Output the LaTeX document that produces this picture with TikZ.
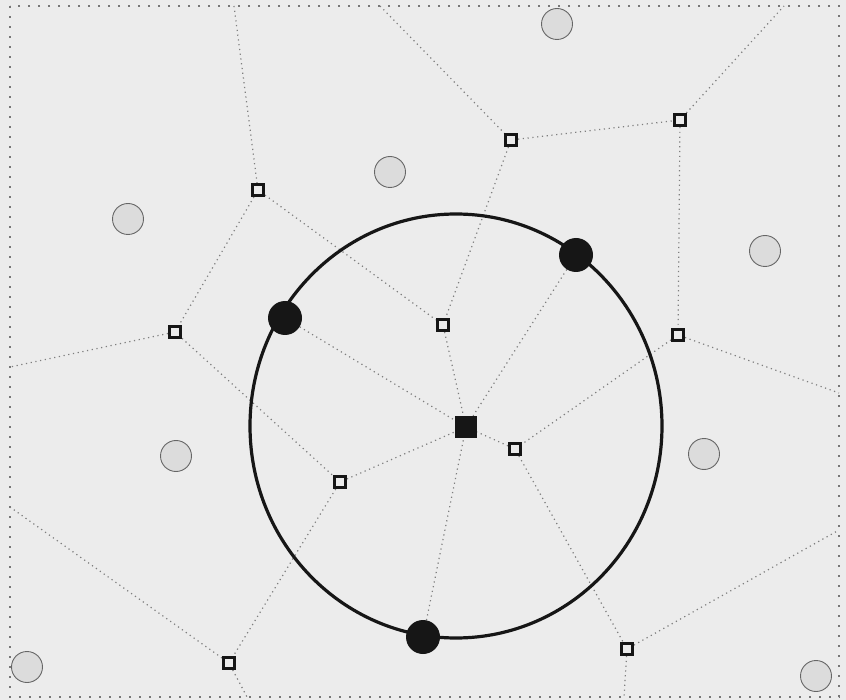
\documentclass[tikz,border=0pt]{standalone}
\usetikzlibrary{backgrounds}
\definecolor{bgc}{HTML}{ECECEC}
\definecolor{sitefill}{HTML}{DCDCDC}
\definecolor{siteline}{HTML}{666666}
\definecolor{edgec}{HTML}{7E7E7E}
\definecolor{framec}{HTML}{777777}
\definecolor{ink}{HTML}{161616}
\tikzset{
  site/.style={circle,draw=siteline,fill=sitefill,line width=0.9pt,minimum width=31pt,minimum height=30pt,inner sep=0pt},
  vtx/.style={rectangle,draw=ink,fill=bgc,line width=3pt,minimum size=11pt,inner sep=0pt},
  hub/.style={rectangle,fill=ink,minimum size=22pt,inner sep=0pt},
  pt/.style={circle,fill=ink,minimum size=34pt,inner sep=0pt},
  vedge/.style={draw=edgec,line width=1.2pt,dash pattern=on 1.2pt off 3.6pt},
  frame/.style={draw=framec,line width=1.6pt,dash pattern=on 2pt off 8pt},
}
\begin{document}
\begin{tikzpicture}[x=1pt,y=-1pt]
\useasboundingbox (0,0) rectangle (846,700);
% sites
\node[site] (s1) at (128,219) {};
\node[site] (s2) at (390,172) {};
\node[site] (s3) at (557,24) {};
\node[site] (s4) at (765,251) {};
\node[site] (s5) at (176,456) {};
\node[site] (s6) at (27,667) {};
\node[site] (s7) at (704,454) {};
\node[site] (s8) at (816,676) {};
% big circle
\draw[ink,line width=3.2pt] (456,426) ellipse [x radius=206, y radius=212];
% vertices
\node[vtx] (v1) at (258,190) {};
\node[vtx] (v2) at (175,332) {};
\node[vtx] (v3) at (511,140) {};
\node[vtx] (v4) at (680,120) {};
\node[vtx] (v5) at (443,325) {};
\node[vtx] (v6) at (678,335) {};
\node[vtx] (v7) at (340,482) {};
\node[vtx] (v8) at (229,663) {};
\node[vtx] (v9) at (515,449) {};
\node[vtx] (v10) at (627,649) {};
\node[hub] (c) at (466,427) {};
% points on circle
\node[pt] (p1) at (285,318) {};
\node[pt] (p2) at (576,255) {};
\node[pt] (p3) at (423,637) {};
% border coordinates
\coordinate (b1) at (234,6);
\coordinate (b2) at (380,6);
\coordinate (b3) at (784,6);
\coordinate (b4) at (10,367);
\coordinate (b5) at (10,507);
\coordinate (b6) at (247,697);
\coordinate (b7) at (624,697);
\coordinate (b8) at (839,530);
\coordinate (b9) at (839,393);
\begin{pgfonlayer}{background}
\fill[bgc] (0,0) rectangle (846,700);
\draw[frame] (10,6) rectangle (839,697);
\draw[vedge] (b1) -- (v1);
\draw[vedge] (v1) -- (v2);
\draw[vedge] (v1) -- (v5);
\draw[vedge] (v2) -- (b4);
\draw[vedge] (v2) -- (v7);
\draw[vedge] (v7) -- (c);
\draw[vedge] (v7) -- (v8);
\draw[vedge] (v8) -- (b6);
\draw[vedge] (v8) -- (b5);
\draw[vedge] (b2) -- (v3);
\draw[vedge] (v3) -- (v4);
\draw[vedge] (v3) -- (v5);
\draw[vedge] (v4) -- (b3);
\draw[vedge] (v4) -- (v6);
\draw[vedge] (v6) -- (b9);
\draw[vedge] (v6) -- (v9);
\draw[vedge] (v9) -- (c);
\draw[vedge] (v9) -- (v10);
\draw[vedge] (v10) -- (b7);
\draw[vedge] (v10) -- (b8);
\draw[vedge] (v5) -- (c);
\draw[vedge] (p1) -- (c);
\draw[vedge] (p2) -- (c);
\draw[vedge] (p3) -- (c);
\end{pgfonlayer}
\end{tikzpicture}
\end{document}
